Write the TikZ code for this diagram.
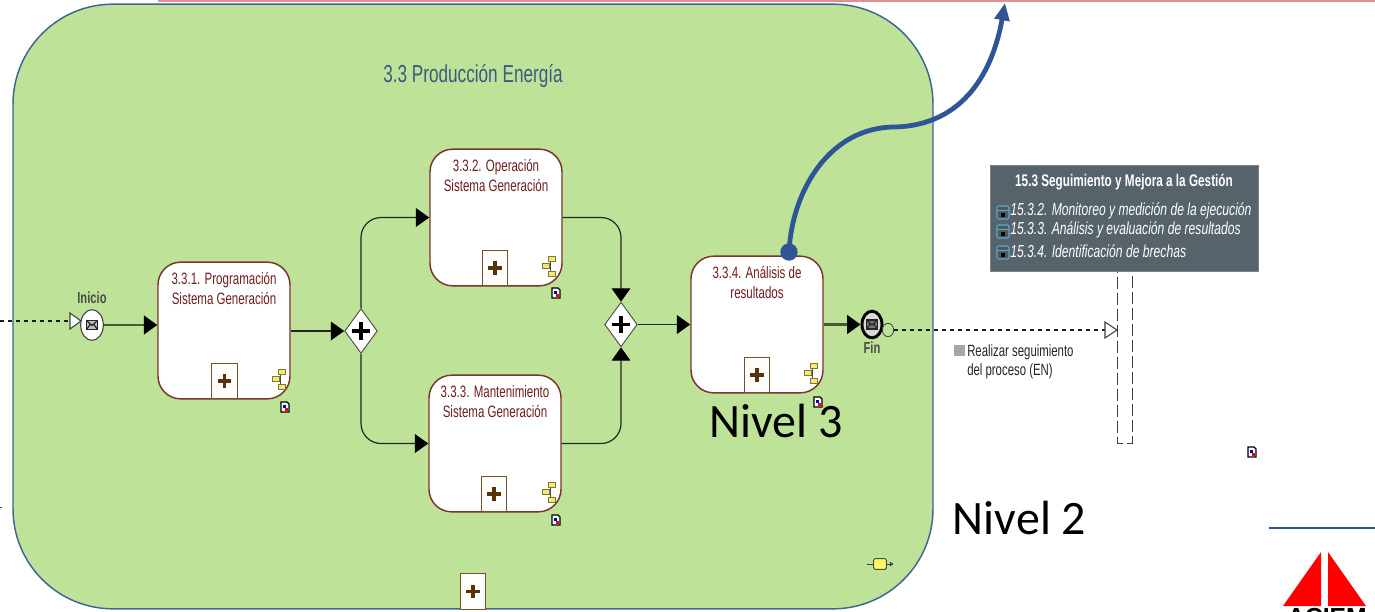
\documentclass[tikz,border=0pt]{standalone}
\usepackage{fontspec}
\setmainfont{Liberation Sans}
\newfontfamily\narrowfont[FakeStretch=0.7]{Liberation Sans}
\newfontfamily\calfont{Carlito}
\usetikzlibrary{arrows.meta,shapes.geometric,calc}
\definecolor{lane}{HTML}{BEE297}
\definecolor{laneedge}{HTML}{3F6592}
\definecolor{taskedge}{HTML}{7B3530}
\definecolor{tasktext}{HTML}{6E1F1C}
\definecolor{curve}{HTML}{2F5597}
\definecolor{slatebox}{HTML}{56636B}
\definecolor{plusc}{HTML}{5A3208}
\definecolor{flow}{HTML}{4A5A3A}
\definecolor{iconedge}{HTML}{7C7A30}
\definecolor{iconfill}{HTML}{F3E97A}
\tikzset{
  x=0.75pt,y=-0.75pt,
  taskbox/.style={draw=taskedge,line width=1.1pt,fill=white,rounded corners=17pt,minimum width=99pt,minimum height=102.5pt,inner sep=0pt},
  tasklabel/.style={font=\narrowfont\fontsize{12.35pt}{14.6pt}\selectfont,text=tasktext,align=center,anchor=north,inner sep=0pt},
  gate/.style={diamond,draw=black!70,fill=white,line width=0.7pt,minimum width=24.5pt,minimum height=33.5pt,inner sep=0pt,aspect=0.73},
  flowline/.style={draw=black!85,line width=0.9pt,-{Triangle[length=10pt,width=14pt,fill=black,color=black]}},
  flowthick/.style={draw=flow,line width=1.6pt,-{Triangle[length=10pt,width=14pt,fill=black,color=black]}},
  msgdash/.style={draw=black!90,line width=0.8pt,dash pattern=on 3pt off 3pt},
  laneborder/.style={draw=black!75,line width=0.7pt,dash pattern=on 9pt off 3pt},
  bigtext/.style={font=\calfont\fontsize{36pt}{38pt}\selectfont,text=black,inner sep=0pt},
  eventlabel/.style={font=\narrowfont\bfseries\fontsize{12pt}{14pt}\selectfont,text=black!70,inner sep=0pt},
  boxrow/.style={font=\narrowfont\itshape\fontsize{13pt}{14pt}\selectfont,text=white,anchor=west,inner sep=0pt},
}
% plus marker
\newcommand{\plusbox}[3]{%
  \node[draw=plusc!85,line width=0.8pt,fill=white!97!lane,minimum width=19pt,minimum height=26.5pt,inner sep=0pt] (#1) at (#2,#3) {};
  \draw[plusc,line width=2.3pt] ($(#1)+(-5pt,0pt)$) -- ($(#1)+(5pt,0pt)$) ($(#1)+(0pt,-5pt)$) -- ($(#1)+(0pt,5pt)$);
}
% hierarchy icon
\newcommand{\treeicon}[2]{%
  \begin{scope}[shift={(#1,#2)}]
    \draw[black!70,line width=0.7pt] (3,-7) -- (1,-7) -- (1,8) -- (3,8) (-3,0) -- (1,0);
    \foreach \a/\b in {3/-7,-3/0,3/8}{\draw[iconedge,fill=iconfill,line width=0.7pt] ($(\a,\b)+(-3.4,-2.6)$) rectangle ($(\a,\b)+(3.4,2.6)$);}
  \end{scope}
}
% small document icon
\newcommand{\docicon}[2]{%
  \begin{scope}[shift={(#1,#2)}]
    \draw[black,fill=white,line width=0.9pt] (-4,-5) -- (2,-5) -- (4,-3) -- (4,5) -- (-4,5) -- cycle;
    \fill[blue!80!black] (-2,-2) rectangle (1,1);
    \fill[red] (0,1) rectangle (3,4);
  \end{scope}
}
% envelope
\newcommand{\envelope}[3]{%
  \begin{scope}[shift={(#1,#2)}]
    \draw[black!85,fill=#3,line width=1.1pt] (-5.5,-4.5) rectangle (5.5,4.5);
    \draw[black!85,line width=0.9pt] (-5.5,-4.5) -- (0,0.5) -- (5.5,-4.5) (-5.5,4.5) -- (-1.5,-1) (5.5,4.5) -- (1.5,-1);
  \end{scope}
}
% box icon in grey panel
\newcommand{\rowicon}[2]{%
  \draw[cyan!55!gray,line width=0.8pt,rounded corners=1pt,fill=slatebox!90!black] (#1-6,#2-6) rectangle (#1+6,#2+7);
  \fill[black] (#1-2,#2+1) rectangle (#1+2,#2+5);
  \draw[cyan!55!gray,line width=0.7pt] (#1-6,#2-2) -- (#1+6,#2-2);
}
\begin{document}
\begin{tikzpicture}
\useasboundingbox (0,0) rectangle (1375,611);
\clip (0,0) rectangle (1375,611);
\fill[white] (0,0) rectangle (1375,611);
% top rule
\fill[red!60!gray!55] (158,0) rectangle (1375,1.6);
% edge tick
\coordinate (tick1) at (0,507); \coordinate (tick2) at (2,507);
\draw[curve,line width=0.7pt] (tick1) -- (tick2);
% lane
\node[draw=laneedge,line width=1.1pt,fill=lane,rounded corners=75pt,minimum width=690pt,minimum height=453.5pt,inner sep=0pt] (lane) at (473,306.5) {};
\node[font=\narrowfont\fontsize{18.4pt}{20pt}\selectfont,text=laneedge!90!black,inner sep=0pt] (lanetitle) at (473,76) {3.3 Producción Energía};

% second-level panel border
\coordinate (bl) at (1117,443); \coordinate (br) at (1132,443);
\coordinate (tl) at (1117,165); \coordinate (tr) at (1132,165);
\draw[laneborder] (tl) -- (bl) -- (br) -- (tr);
\node[fill=slatebox,draw=slatebox!80!white,line width=0.4pt,minimum width=201pt,minimum height=79.5pt,inner sep=0pt] (panel) at (1124,218) {};
\node[font=\narrowfont\bfseries\fontsize{12.6pt}{14pt}\selectfont,text=white,inner sep=0pt] (paneltitle) at (1124,182) {15.3 Seguimiento y Mejora a la Gestión};
\rowicon{1003}{212}\rowicon{1003}{231}\rowicon{1003}{252}
\node[boxrow] (r1) at (1010,211) {15.3.2. Monitoreo y medición de la ejecución};
\node[boxrow] (r2) at (1010,230) {15.3.3. Análisis y evaluación de resultados};
\node[boxrow] (r3) at (1010,251) {15.3.4. Identificación de brechas};

% tasks
\node[taskbox] (t331) at (224,330.5) {};
\node[taskbox] (t332) at (496,217.5) {};
\node[taskbox] (t333) at (495,443.5) {};
\node[taskbox] (t334) at (757,324.5) {};
\node[tasklabel] (l331) at ($(t331.north)+(0,11)$) {3.3.1. Programación\\Sistema Generación};
\node[tasklabel] (l332) at ($(t332.north)+(0,11)$) {3.3.2. Operación\\Sistema Generación};
\node[tasklabel] (l333) at ($(t333.north)+(0,11)$) {3.3.3. Mantenimiento\\Sistema Generación};
\node[tasklabel] (l334) at ($(t334.north)+(0,11)$) {3.3.4. Análisis de\\resultados};

\plusbox{p331}{224.5}{381}
\plusbox{p332}{495}{268}
\plusbox{p333}{494}{494}
\plusbox{p334}{757}{375}
\plusbox{plane}{473}{591.5}

\treeicon{279}{379}\treeicon{549}{266}\treeicon{549}{492}\treeicon{811}{373}
\docicon{285}{407}\docicon{556}{293}\docicon{556}{520}\docicon{818}{402}\docicon{1252}{452}

% gateways
\node[gate] (g1) at (361,331) {};
\node[gate] (g2) at (621,324.5) {};
\foreach \g in {g1,g2}{\draw[black,line width=2.6pt] ($(\g)+(-6.5pt,0pt)$) -- ($(\g)+(6.5pt,0pt)$) ($(\g)+(0pt,-6.5pt)$) -- ($(\g)+(0pt,6.5pt)$);}

% events
\node[ellipse,draw=black!75,fill=white,line width=0.8pt,minimum width=17pt,minimum height=23pt,inner sep=0pt] (start) at (92,325) {};
\envelope{92}{325}{black!25}
\node[eventlabel] (linicio) at (92,298) {Inicio};
\node[ellipse,draw=black,fill=white!85!black,line width=2.2pt,minimum width=15pt,minimum height=20pt,inner sep=0pt] (fin) at (872,324.5) {};
\envelope{872}{324.5}{black!55}
\node[eventlabel] (lfin) at (872,348) {Fin};
\node[ellipse,draw=black!75,fill=lane,line width=0.6pt,minimum width=8.5pt,minimum height=10pt,inner sep=0pt] (fincirc) at (888,330) {};

% message flows
\coordinate (leftedge) at (0,321);
\coordinate (starttip) at (81,321);
\draw[msgdash] (leftedge) -- (70,321);
\draw[black!75,fill=white,line width=0.8pt] (70,313) -- (starttip) -- (70,329) -- cycle;
\coordinate (paneltip) at (1117,330);
\draw[msgdash] (fincirc.east) -- (1105,330);
\draw[black!75,fill=white,line width=0.8pt] (1105,322) -- (paneltip) -- (1105,338) -- cycle;

% sequence flows
\draw[flowthick] (start.east) -- (start -| t331.west);
\draw[flowline] (t331.east |- g1) -- (g1.west);
\draw[flowline,rounded corners=15pt] (g1.north) |- (t332.west);
\draw[flowline,rounded corners=15pt] (g1.south) |- (t333.west);
\draw[flowline,rounded corners=15pt] (t332.east) -| (g2.north);
\draw[flowline,rounded corners=15pt] (t333.east) -| (g2.south);
\draw[flowline,line width=1.1pt] (g2.east) -- (t334.west);
\draw[flowthick] (t334.east) -- (fin.west);

% panel note
\fill[black!35] (954,345) rectangle (965,356);
\node[font=\narrowfont\fontsize{12.2pt}{14.3pt}\selectfont,text=black!85,align=left,anchor=north west,inner sep=0pt] (note) at (967,344) {Realizar seguimiento\\del proceso (EN)};

% small yellow marker
\node[draw=black!70,fill=yellow!60,line width=0.7pt,rounded corners=1pt,minimum width=9.5pt,minimum height=8pt,inner sep=0pt] (marker) at (880,564) {};
\draw[black!75,line width=0.7pt,-{Latex[length=3pt,width=4pt]}] (marker.east) -- ++(7,0);
\draw[black!75,line width=0.7pt] (marker.west) -- ++(-6,0);

% blue curve
\node[circle,fill=curve,minimum width=13pt,inner sep=0pt] (dot) at (789,252) {};
\coordinate (uptip) at (1005,3);
\draw[curve,line width=3.6pt,-{Triangle[length=13pt,width=11pt]}] (dot.center) .. controls (792,190) and (830,127) .. (895,127) .. controls (965,125) and (993,70) .. (uptip);

% labels
\node[bigtext] (n3) at (776,421) {Nivel 3};
\node[bigtext] (n2) at (1019.5,518) {Nivel 2};

% logo
\coordinate (rule1) at (1269,528); \coordinate (rule2) at (1375,528);
\draw[curve,line width=1.3pt] (rule1) -- (rule2);
\fill[red] (1283,606) -- (1321,552) -- (1321,606) -- cycle;
\fill[red] (1328,552) -- (1366,606) -- (1328,606) -- cycle;
\node[font=\bfseries\fontsize{18.5pt}{20pt}\selectfont,text=black,inner sep=0pt,anchor=north] (aciem) at (1327,608) {ACIEM};
\end{tikzpicture}
\end{document}
